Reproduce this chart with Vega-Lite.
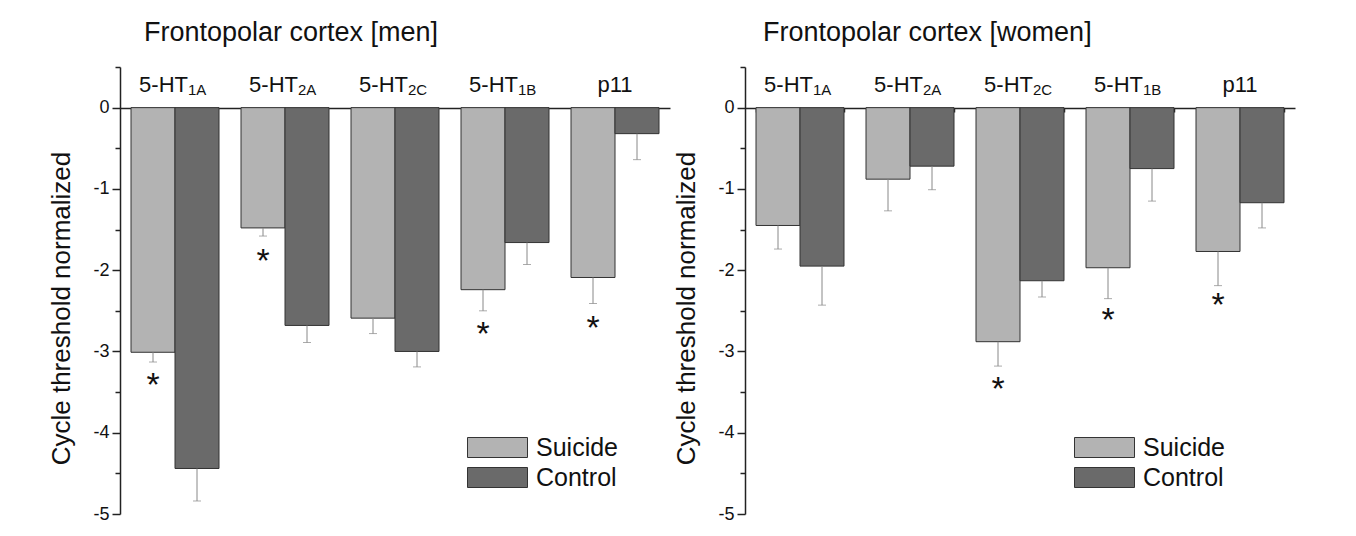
{
  "$schema": "https://vega.github.io/schema/vega-lite/v6.json",
  "background": "white",
  "padding": {"left": 48, "top": 19, "right": 5, "bottom": 5},
  "spacing": 3,
  "config": {
    "font": "Liberation Sans",
    "view": {"stroke": null},
    "axis": {"grid": false}
  },
  "datasets": {
    "bars": [
      {"panel": "men", "receptor": "5-HT1A", "group": "Suicide", "value": -3.01, "err": -3.13},
      {"panel": "men", "receptor": "5-HT1A", "group": "Control", "value": -4.44, "err": -4.84},
      {"panel": "men", "receptor": "5-HT2A", "group": "Suicide", "value": -1.48, "err": -1.58},
      {"panel": "men", "receptor": "5-HT2A", "group": "Control", "value": -2.68, "err": -2.89},
      {"panel": "men", "receptor": "5-HT2C", "group": "Suicide", "value": -2.59, "err": -2.78},
      {"panel": "men", "receptor": "5-HT2C", "group": "Control", "value": -3.0, "err": -3.19},
      {"panel": "men", "receptor": "5-HT1B", "group": "Suicide", "value": -2.24, "err": -2.5},
      {"panel": "men", "receptor": "5-HT1B", "group": "Control", "value": -1.66, "err": -1.93},
      {"panel": "men", "receptor": "p11", "group": "Suicide", "value": -2.09, "err": -2.41},
      {"panel": "men", "receptor": "p11", "group": "Control", "value": -0.32, "err": -0.64},
      {"panel": "women", "receptor": "5-HT1A", "group": "Suicide", "value": -1.45, "err": -1.74},
      {"panel": "women", "receptor": "5-HT1A", "group": "Control", "value": -1.95, "err": -2.43},
      {"panel": "women", "receptor": "5-HT2A", "group": "Suicide", "value": -0.88, "err": -1.27},
      {"panel": "women", "receptor": "5-HT2A", "group": "Control", "value": -0.72, "err": -1.01},
      {"panel": "women", "receptor": "5-HT2C", "group": "Suicide", "value": -2.88, "err": -3.18},
      {"panel": "women", "receptor": "5-HT2C", "group": "Control", "value": -2.13, "err": -2.33},
      {"panel": "women", "receptor": "5-HT1B", "group": "Suicide", "value": -1.97, "err": -2.35},
      {"panel": "women", "receptor": "5-HT1B", "group": "Control", "value": -0.75, "err": -1.15},
      {"panel": "women", "receptor": "p11", "group": "Suicide", "value": -1.77, "err": -2.19},
      {"panel": "women", "receptor": "p11", "group": "Control", "value": -1.17, "err": -1.48}
    ],
    "labels": [
      {"receptor": "5-HT1A", "main": "5-HT", "sub": "1A", "pos": 0.19},
      {"receptor": "5-HT2A", "main": "5-HT", "sub": "2A", "pos": 0.19},
      {"receptor": "5-HT2C", "main": "5-HT", "sub": "2C", "pos": 0.19},
      {"receptor": "5-HT1B", "main": "5-HT", "sub": "1B", "pos": 0.19},
      {"receptor": "p11", "main": "p11", "sub": "", "pos": 0.19}
    ],
    "stars": [
      {"panel": "men", "receptor": "5-HT1A", "group": "Suicide", "value": -3.37, "mark": "*"},
      {"panel": "men", "receptor": "5-HT2A", "group": "Suicide", "value": -1.85, "mark": "*"},
      {"panel": "men", "receptor": "5-HT1B", "group": "Suicide", "value": -2.75, "mark": "*"},
      {"panel": "men", "receptor": "p11", "group": "Suicide", "value": -2.68, "mark": "*"},
      {"panel": "women", "receptor": "5-HT2C", "group": "Suicide", "value": -3.42, "mark": "*"},
      {"panel": "women", "receptor": "5-HT1B", "group": "Suicide", "value": -2.58, "mark": "*"},
      {"panel": "women", "receptor": "p11", "group": "Suicide", "value": -2.39, "mark": "*"}
    ]
  },
  "resolve": {"legend": {"color": "independent"}},
  "hconcat": [
    {
      "width": 550,
      "height": 447,
      "title": {"text": "Frontopolar cortex [men]", "anchor": "start", "frame": "group", "dx": 24, "offset": -2, "baseline": "alphabetic", "fontSize": 27, "fontWeight": "normal", "color": "#111"},
      "layer": [
        {
          "data": {"name": "bars"},
          "transform": [{"filter": "datum.panel === 'men'"}],
          "mark": {"type": "bar", "stroke": "#333", "strokeWidth": 1},
          "encoding": {
            "x": {"field": "receptor", "type": "nominal", "sort": ["5-HT1A", "5-HT2A", "5-HT2C", "5-HT1B", "p11"], "scale": {"paddingInner": 0.2, "paddingOuter": 0.1},
              "axis": {"orient": "bottom", "offset": -406, "title": null, "labels": false, "ticks": false, "domainColor": "#222", "domainWidth": 1.5}},
            "xOffset": {"field": "group", "type": "nominal", "sort": ["Suicide", "Control"], "scale": {"domain": ["Suicide", "Control"], "paddingInner": 0, "paddingOuter": 0}},
            "y": {"field": "value", "type": "quantitative", "scale": {"domain": [-5, 0.5], "nice": false, "zero": false},
              "axis": {"title": "Cycle threshold normalized", "titleFontSize": 26, "titleFontWeight": "normal", "titleColor": "#111", "titlePadding": 18, "titleY": 241,
                "values": [-5, -4.5, -4, -3.5, -3, -2.5, -2, -1.5, -1, -0.5, 0, 0.5],
                "labelExpr": "datum.value % 1 === 0 ? '' + datum.value : ''",
                "tickSize": {"condition": {"test": "datum.value % 1 === 0", "value": 8}, "value": 5},
                "labelFontSize": 18, "labelColor": "#111", "labelPadding": 3, "domainColor": "#222", "domainWidth": 1.5, "tickColor": "#222", "tickWidth": 1.5}},
            "color": {"field": "group", "type": "nominal", "sort": ["Suicide", "Control"], "scale": {"domain": ["Suicide", "Control"], "range": ["#b3b3b3", "#6a6a6a"]},
              "legend": {"orient": "none", "legendX": 345, "legendY": 368, "title": null, "symbolType": "M-1,-1L5,-1L5,1L-1,1Z", "symbolSize": 400, "symbolStrokeColor": "#333", "symbolStrokeWidth": 1, "symbolOpacity": 1, "labelFontSize": 25, "labelOffset": 46, "labelColor": "#111", "rowPadding": 4, "padding": 0}}
          }
        },
        {
          "data": {"name": "bars"},
          "transform": [{"filter": "datum.panel === 'men'"}],
          "mark": {"type": "rule", "color": "#888", "strokeWidth": 1},
          "encoding": {
            "x": {"field": "receptor", "type": "nominal", "sort": ["5-HT1A", "5-HT2A", "5-HT2C", "5-HT1B", "p11"]},
            "xOffset": {"field": "group", "type": "nominal", "sort": ["Suicide", "Control"]},
            "y": {"field": "value", "type": "quantitative"},
            "y2": {"field": "err"}
          }
        },
        {
          "data": {"name": "bars"},
          "transform": [{"filter": "datum.panel === 'men'"}],
          "mark": {"type": "tick", "color": "#888", "thickness": 1, "size": 8},
          "encoding": {
            "x": {"field": "receptor", "type": "nominal", "sort": ["5-HT1A", "5-HT2A", "5-HT2C", "5-HT1B", "p11"]},
            "xOffset": {"field": "group", "type": "nominal", "sort": ["Suicide", "Control"]},
            "y": {"field": "err", "type": "quantitative"}
          }
        },
        {
          "data": {"name": "labels"},
          "transform": [{"filter": "datum.sub !== ''"}],
          "mark": {"type": "text", "align": "right", "baseline": "alphabetic", "dx": 13, "fontSize": 22, "color": "#111"},
          "encoding": {
            "x": {"field": "receptor", "type": "nominal", "sort": ["5-HT1A", "5-HT2A", "5-HT2C", "5-HT1B", "p11"]},
            "y": {"field": "pos", "type": "quantitative"},
            "text": {"field": "main"}
          }
        },
        {
          "data": {"name": "labels"},
          "transform": [{"filter": "datum.sub !== ''"}],
          "mark": {"type": "text", "align": "left", "baseline": "alphabetic", "dx": 13, "dy": 3, "fontSize": 15, "color": "#111"},
          "encoding": {
            "x": {"field": "receptor", "type": "nominal", "sort": ["5-HT1A", "5-HT2A", "5-HT2C", "5-HT1B", "p11"]},
            "y": {"field": "pos", "type": "quantitative"},
            "text": {"field": "sub"}
          }
        },
        {
          "data": {"name": "labels"},
          "transform": [{"filter": "datum.sub === ''"}],
          "mark": {"type": "text", "align": "center", "baseline": "alphabetic", "fontSize": 22, "color": "#111"},
          "encoding": {
            "x": {"field": "receptor", "type": "nominal", "sort": ["5-HT1A", "5-HT2A", "5-HT2C", "5-HT1B", "p11"]},
            "y": {"field": "pos", "type": "quantitative"},
            "text": {"field": "main"}
          }
        },
        {
          "data": {"name": "stars"},
          "transform": [{"filter": "datum.panel === 'men'"}],
          "mark": {"type": "text", "align": "center", "baseline": "alphabetic", "dy": 14, "fontSize": 34, "color": "#111"},
          "encoding": {
            "x": {"field": "receptor", "type": "nominal", "sort": ["5-HT1A", "5-HT2A", "5-HT2C", "5-HT1B", "p11"]},
            "xOffset": {"field": "group", "type": "nominal", "sort": ["Suicide", "Control"]},
            "y": {"field": "value", "type": "quantitative"},
            "text": {"field": "mark"}
          }
        }
      ]
    },
    {
      "width": 550,
      "height": 447,
      "title": {"text": "Frontopolar cortex [women]", "anchor": "start", "frame": "group", "dx": 18, "offset": -2, "baseline": "alphabetic", "fontSize": 27, "fontWeight": "normal", "color": "#111"},
      "layer": [
        {
          "data": {"name": "bars"},
          "transform": [{"filter": "datum.panel === 'women'"}],
          "mark": {"type": "bar", "stroke": "#333", "strokeWidth": 1},
          "encoding": {
            "x": {"field": "receptor", "type": "nominal", "sort": ["5-HT1A", "5-HT2A", "5-HT2C", "5-HT1B", "p11"], "scale": {"paddingInner": 0.2, "paddingOuter": 0.1},
              "axis": {"orient": "bottom", "offset": -406, "title": null, "labels": false, "ticks": true, "tickBand": "extent", "tickSize": 4, "tickColor": "#222", "tickWidth": 1.5, "domainColor": "#222", "domainWidth": 1.5}},
            "xOffset": {"field": "group", "type": "nominal", "sort": ["Suicide", "Control"], "scale": {"domain": ["Suicide", "Control"], "paddingInner": 0, "paddingOuter": 0}},
            "y": {"field": "value", "type": "quantitative", "scale": {"domain": [-5, 0.5], "nice": false, "zero": false},
              "axis": {"title": "Cycle threshold normalized", "titleFontSize": 26, "titleFontWeight": "normal", "titleColor": "#111", "titlePadding": 18, "titleY": 241,
                "values": [-5, -4.5, -4, -3.5, -3, -2.5, -2, -1.5, -1, -0.5, 0, 0.5],
                "labelExpr": "datum.value % 1 === 0 ? '' + datum.value : ''",
                "tickSize": {"condition": {"test": "datum.value % 1 === 0", "value": 8}, "value": 5},
                "labelFontSize": 18, "labelColor": "#111", "labelPadding": 3, "domainColor": "#222", "domainWidth": 1.5, "tickColor": "#222", "tickWidth": 1.5}},
            "color": {"field": "group", "type": "nominal", "sort": ["Suicide", "Control"], "scale": {"domain": ["Suicide", "Control"], "range": ["#b3b3b3", "#6a6a6a"]},
              "legend": {"orient": "none", "legendX": 327, "legendY": 368, "title": null, "symbolType": "M-1,-1L5,-1L5,1L-1,1Z", "symbolSize": 400, "symbolStrokeColor": "#333", "symbolStrokeWidth": 1, "symbolOpacity": 1, "labelFontSize": 25, "labelOffset": 46, "labelColor": "#111", "rowPadding": 4, "padding": 0}}
          }
        },
        {
          "data": {"name": "bars"},
          "transform": [{"filter": "datum.panel === 'women'"}],
          "mark": {"type": "rule", "color": "#888", "strokeWidth": 1},
          "encoding": {
            "x": {"field": "receptor", "type": "nominal", "sort": ["5-HT1A", "5-HT2A", "5-HT2C", "5-HT1B", "p11"]},
            "xOffset": {"field": "group", "type": "nominal", "sort": ["Suicide", "Control"]},
            "y": {"field": "value", "type": "quantitative"},
            "y2": {"field": "err"}
          }
        },
        {
          "data": {"name": "bars"},
          "transform": [{"filter": "datum.panel === 'women'"}],
          "mark": {"type": "tick", "color": "#888", "thickness": 1, "size": 8},
          "encoding": {
            "x": {"field": "receptor", "type": "nominal", "sort": ["5-HT1A", "5-HT2A", "5-HT2C", "5-HT1B", "p11"]},
            "xOffset": {"field": "group", "type": "nominal", "sort": ["Suicide", "Control"]},
            "y": {"field": "err", "type": "quantitative"}
          }
        },
        {
          "data": {"name": "labels"},
          "transform": [{"filter": "datum.sub !== ''"}],
          "mark": {"type": "text", "align": "right", "baseline": "alphabetic", "dx": 13, "fontSize": 22, "color": "#111"},
          "encoding": {
            "x": {"field": "receptor", "type": "nominal", "sort": ["5-HT1A", "5-HT2A", "5-HT2C", "5-HT1B", "p11"]},
            "y": {"field": "pos", "type": "quantitative"},
            "text": {"field": "main"}
          }
        },
        {
          "data": {"name": "labels"},
          "transform": [{"filter": "datum.sub !== ''"}],
          "mark": {"type": "text", "align": "left", "baseline": "alphabetic", "dx": 13, "dy": 3, "fontSize": 15, "color": "#111"},
          "encoding": {
            "x": {"field": "receptor", "type": "nominal", "sort": ["5-HT1A", "5-HT2A", "5-HT2C", "5-HT1B", "p11"]},
            "y": {"field": "pos", "type": "quantitative"},
            "text": {"field": "sub"}
          }
        },
        {
          "data": {"name": "labels"},
          "transform": [{"filter": "datum.sub === ''"}],
          "mark": {"type": "text", "align": "center", "baseline": "alphabetic", "fontSize": 22, "color": "#111"},
          "encoding": {
            "x": {"field": "receptor", "type": "nominal", "sort": ["5-HT1A", "5-HT2A", "5-HT2C", "5-HT1B", "p11"]},
            "y": {"field": "pos", "type": "quantitative"},
            "text": {"field": "main"}
          }
        },
        {
          "data": {"name": "stars"},
          "transform": [{"filter": "datum.panel === 'women'"}],
          "mark": {"type": "text", "align": "center", "baseline": "alphabetic", "dy": 14, "fontSize": 34, "color": "#111"},
          "encoding": {
            "x": {"field": "receptor", "type": "nominal", "sort": ["5-HT1A", "5-HT2A", "5-HT2C", "5-HT1B", "p11"]},
            "xOffset": {"field": "group", "type": "nominal", "sort": ["Suicide", "Control"]},
            "y": {"field": "value", "type": "quantitative"},
            "text": {"field": "mark"}
          }
        }
      ]
    }
  ]
}
